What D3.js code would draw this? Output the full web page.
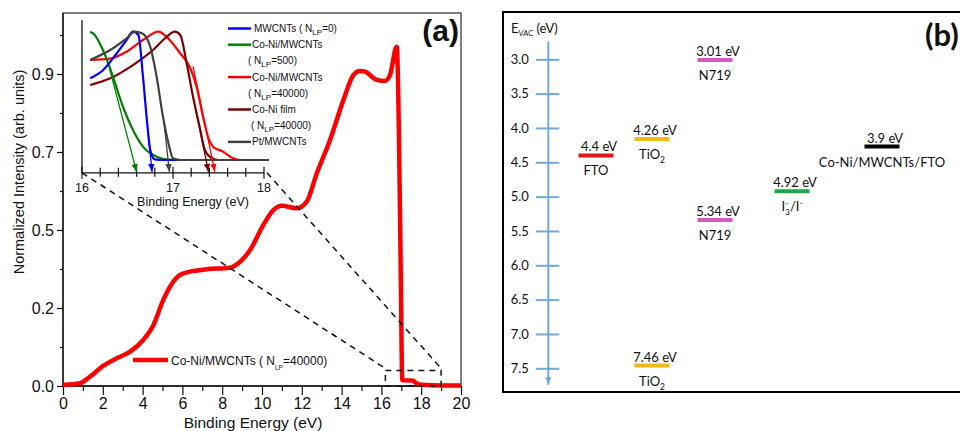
<!DOCTYPE html>
<html>
<head>
<meta charset="utf-8">
<script src="https://cdn.jsdelivr.net/npm/d3@7"></script>
<style>
  body { margin: 0; background: #fff; }
  svg { display: block; }
  .pa text { font-family: 'Liberation Sans', Arial, sans-serif; fill: #111; }
  .pb text { font-family: Lato, 'Noto Sans', sans-serif; fill: #111; }
</style>
</head>
<body>
<svg id="chart" width="960" height="431"></svg>
<script>
// ---- panel (a): full spectrum ----
const mainEnergy = [0, 0.85, 1.36, 2.03, 2.7, 3.37, 4.03, 4.54, 5.04, 5.38, 5.88, 6.38, 7.22, 8.39, 8.9, 9.4,
  10.07, 10.57, 10.99, 11.74, 12.25, 12.75, 13.42, 14.09, 14.59, 14.92, 15.18, 15.76, 16.18, 16.43, 16.77,
  16.88, 16.97, 17.05, 17.1, 17.55, 17.8, 18.0, 19.0, 20.0];
const mainIntensity = [0.003, 0.007, 0.024, 0.052, 0.071, 0.088, 0.118, 0.156, 0.231, 0.282, 0.327, 0.340, 0.349, 0.355, 0.378, 0.423,
  0.513, 0.551, 0.562, 0.556, 0.573, 0.645, 0.731, 0.833, 0.897, 0.908, 0.906, 0.885, 0.882, 0.897, 0.970,
  0.75, 0.35, 0.015, 0.015, 0.014, 0.006, 0.003, 0.001, 0.001];
const mainLegend = 'Co-Ni/MWCNTs';
const mainNlp = '40000';

const xTicksMajor = [0, 2, 4, 6, 8, 10, 12, 14, 16, 18, 20];
const xTicksMinor = [1, 3, 5, 7, 9, 11, 13, 15, 17, 19];
// the y tick labels of the original are not evenly spaced in value
const yTickValues = [0, 0.2, 0.5, 0.7, 0.9];
const yTickLabels = ['0.0', '0.2', '0.5', '0.7', '0.9'];
const yMinorValues = [0.1, 0.35, 0.6, 0.8, 1.0];

// zoom box drawn on the main spectrum: [E0, E1, I0, I1]
const zoomBox = [16.2, 19.0, 0, 0.04];

// ---- inset: secondary electron cut-off ----
const insetNames = ['MWCNTs', 'Co-Ni/MWCNTs', 'Co-Ni/MWCNTs', 'Co-Ni film', 'Pt/MWCNTs'];
const insetNlp = ['0', '500', '40000', '40000', null];
const insetColors = ['#0000ff', '#008000', '#ff0000', '#7a0000', '#404040'];
const insetEnergy = [
  [16.09, 16.23, 16.38, 16.49, 16.56, 16.62, 16.67, 16.72, 16.75, 16.8, 16.9, 18.05],
  [16.09, 16.14, 16.23, 16.34, 16.45, 16.56, 16.67, 16.82, 16.95, 17.1, 18.05],
  [16.09, 16.31, 16.49, 16.67, 16.84, 16.93, 17.08, 17.19, 17.26, 17.33, 17.39, 17.44, 17.55, 17.66, 17.75, 18.05],
  [16.09, 16.31, 16.56, 16.78, 16.93, 17.02, 17.08, 17.15, 17.22, 17.3, 17.35, 17.43, 17.5, 18.05],
  [16.09, 16.31, 16.49, 16.58, 16.66, 16.75, 16.82, 16.89, 16.95, 17.0, 17.08, 18.05]
];
const insetIntensity = [
  [0.637, 0.70, 0.83, 0.935, 1.0, 0.974, 0.65, 0.26, 0.078, 0.005, 0, 0],
  [1.0, 0.974, 0.857, 0.65, 0.415, 0.234, 0.104, 0.026, 0.003, 0, 0],
  [0.78, 0.79, 0.844, 0.935, 1.0, 0.96, 0.83, 0.715, 0.57, 0.337, 0.169, 0.104, 0.065, 0.013, 0, 0],
  [0.585, 0.637, 0.74, 0.857, 0.96, 1.0, 0.974, 0.753, 0.493, 0.234, 0.078, 0.013, 0, 0],
  [0.78, 0.857, 0.948, 1.0, 0.987, 0.883, 0.65, 0.337, 0.13, 0.013, 0, 0]
];
// cut-off arrows: start point on the curve, end energy on the axis
const arrowStartE = [16.72, 16.3, 17.22, 17.25, 16.9];
const arrowStartI = [0.26, 0.72, 0.73, 0.39, 0.3];
const arrowEndE = [16.77, 16.6, 17.46, 17.39, 16.96];

// ---- panel (b): energy levels ----
const evTicks = [3.0, 3.5, 4.0, 4.5, 5.0, 5.5, 6.0, 6.5, 7.0, 7.5];
const levelColumn = ['FTO', 'TiO2', 'N719', 'N719', 'TiO2', 'I3', 'CoNi'];
const levelValue = ['4.4 eV', '4.26 eV', '3.01 eV', '5.34 eV', '7.46 eV', '4.92 eV', '3.9 eV'];
// where each bar sits on the drawn scale (the original does not always match its label)
const levelPos = [4.4, 4.16, 3.01, 5.34, 7.46, 4.92, 4.27];
const levelName = ['FTO', 'TiO2', 'N719', 'N719', 'TiO2', 'I3-/I-', 'Co-Ni/MWCNTs/FTO'];
const levelColors = ['#e3131b', '#f4b817', '#d957c6', '#d957c6', '#f4b817', '#1fa64a', '#000000'];

const svg = d3.select('#chart');

// ================= panel (a) =================
const pa = svg.append('g').attr('class', 'pa');

const x = d3.scaleLinear().domain([0, 20]).range([63, 461]);
const y = d3.scaleLinear().domain(yTickValues).range([386, 308, 230, 152, 74]);
const yTop = 13;

pa.append('rect')
  .attr('x', x(0)).attr('y', yTop)
  .attr('width', x(20) - x(0)).attr('height', y(0) - yTop)
  .attr('fill', 'none').attr('stroke', '#555').attr('stroke-width', 1.5);

function styleAxis(g, size) {
  g.select('.domain').remove();
  g.selectAll('.tick line').attr('stroke', '#111').attr('stroke-width', 1.2);
  g.selectAll('.tick text').attr('font-size', size).attr('fill', '#111')
    .attr('font-family', "'Liberation Sans', Arial, sans-serif");
}

const axY = pa.append('g').attr('transform', 'translate(' + x(0) + ',0)')
  .call(d3.axisLeft(y).tickValues(yTickValues).tickFormat((d, i) => yTickLabels[i]).tickSize(6).tickPadding(3));
styleAxis(axY, '16px');
const axYm = pa.append('g').attr('transform', 'translate(' + x(0) + ',0)')
  .call(d3.axisLeft(y).tickValues(yMinorValues).tickFormat('').tickSize(3));
styleAxis(axYm, '16px');

const axX = pa.append('g').attr('transform', 'translate(0,' + y(0) + ')')
  .call(d3.axisBottom(x).tickValues(xTicksMajor).tickFormat(d3.format('d')).tickSize(9).tickPadding(3));
styleAxis(axX, '16px');
const axXm = pa.append('g').attr('transform', 'translate(0,' + y(0) + ')')
  .call(d3.axisBottom(x).tickValues(xTicksMinor).tickFormat('').tickSize(5));
styleAxis(axXm, '16px');

pa.append('line')
  .attr('x1', x(0)).attr('x2', x(0)).attr('y1', yTop).attr('y2', y(0))
  .attr('stroke', '#111').attr('stroke-width', 1.3);
pa.append('line')
  .attr('x1', x(0)).attr('x2', x(20)).attr('y1', y(0)).attr('y2', y(0))
  .attr('stroke', '#111').attr('stroke-width', 1.3);

pa.append('text')
  .attr('x', 253).attr('y', 428)
  .attr('text-anchor', 'middle').attr('font-size', '15.5px')
  .text('Binding Energy (eV)');
pa.append('text')
  .attr('transform', 'translate(24,172) rotate(-90)')
  .attr('text-anchor', 'middle').attr('font-size', '14.5px')
  .text('Normalized Intensity (arb. units)');

pa.append('text')
  .attr('x', 459).attr('y', 41)
  .attr('text-anchor', 'end').attr('font-size', '30px').attr('font-weight', 'bold')
  .text('(a)');

// main spectrum
const mainLine = d3.line()
  .x(d => x(d[0]))
  .y(d => y(d[1]))
  .curve(d3.curveMonotoneX);

pa.append('path')
  .datum(d3.zip(mainEnergy, mainIntensity))
  .attr('fill', 'none').attr('stroke', '#ff0000').attr('stroke-width', 4.5)
  .attr('stroke-linejoin', 'round')
  .attr('d', mainLine);

// main legend
pa.append('line')
  .attr('x1', 133).attr('x2', 168).attr('y1', 360).attr('y2', 360)
  .attr('stroke', '#ff0000').attr('stroke-width', 4.5);
function appendNlp(t, value, small, shift) {
  t.append('tspan').text(' ( N');
  t.append('tspan').attr('dy', shift).attr('font-size', small).text('LP');
  t.append('tspan').attr('dy', -shift).text('=' + value + ')');
}
const mainLeg = pa.append('text')
  .attr('x', 171).attr('y', 365).attr('font-size', '12px').text(mainLegend);
appendNlp(mainLeg, mainNlp, '6.5px', 5);

// ---- inset ----
const ix = d3.scaleLinear().domain([16, 18]).range([82, 264]);
const iy = d3.scaleLinear().domain([0, 1]).range([160, 31.7]);
const iAxisY = iy(-0.1);

// dashed zoom box and connectors
const dash = { stroke: '#111', 'stroke-width': 1.5, 'stroke-dasharray': '6,5', fill: 'none' };
const zb = pa.append('rect')
  .attr('x', x(zoomBox[0])).attr('y', y(zoomBox[3]))
  .attr('width', x(zoomBox[1]) - x(zoomBox[0])).attr('height', y(zoomBox[2]) - y(zoomBox[3]));
Object.entries(dash).forEach(([k, v]) => zb.attr(k, v));
[[ix(16), zoomBox[0]], [ix(18) + 3, zoomBox[1]]].forEach(p => {
  const l = pa.append('line')
    .attr('x1', p[0]).attr('y1', iAxisY)
    .attr('x2', x(p[1])).attr('y2', y(zoomBox[3]) - 2);
  Object.entries(dash).forEach(([k, v]) => l.attr(k, v));
});

// inset axes
pa.append('line')
  .attr('x1', ix(16)).attr('x2', ix(16)).attr('y1', iy(1.09)).attr('y2', iAxisY)
  .attr('stroke', '#111').attr('stroke-width', 1.3);
pa.append('line')
  .attr('x1', ix(16)).attr('x2', ix(18)).attr('y1', iAxisY).attr('y2', iAxisY)
  .attr('stroke', '#111').attr('stroke-width', 1.3);

const insetTicks = d3.range(0, 11).map(i => 16 + i * 0.2);
pa.append('g').selectAll('line')
  .data(insetTicks)
  .join('line')
  .attr('x1', d => ix(d)).attr('x2', d => ix(d))
  .attr('y1', (d, i) => iAxisY - (i % 5 === 0 ? 6 : 5))
  .attr('y2', (d, i) => iAxisY + (i % 5 === 0 ? 6 : 4))
  .attr('stroke', '#111').attr('stroke-width', 1.2);
pa.append('g').selectAll('text')
  .data([16, 17, 18])
  .join('text')
  .attr('x', d => ix(d)).attr('y', iAxisY + 19.5)
  .attr('text-anchor', 'middle').attr('font-size', '12.5px')
  .text(d => d);
pa.append('text')
  .attr('x', 193).attr('y', 206)
  .attr('text-anchor', 'middle').attr('font-size', '12.5px')
  .text('Binding Energy (eV)');

// arrow markers
const defs = svg.append('defs');
insetColors.forEach((c, i) => {
  defs.append('marker')
    .attr('id', 'arr' + i)
    .attr('viewBox', '0 0 10 8')
    .attr('refX', 10).attr('refY', 4)
    .attr('markerWidth', 8).attr('markerHeight', 7)
    .attr('markerUnits', 'userSpaceOnUse')
    .attr('orient', 'auto')
    .append('path').attr('d', 'M0,0L10,4L0,8Z').attr('fill', c);
});

const insetLine = d3.line()
  .x(d => ix(d[0]))
  .y(d => iy(d[1]))
  .curve(d3.curveMonotoneX);

const drawOrder = [2, 3, 1, 0, 4];
drawOrder.forEach(i => {
  pa.append('path')
    .datum(d3.zip(insetEnergy[i], insetIntensity[i]))
    .attr('fill', 'none').attr('stroke', insetColors[i]).attr('stroke-width', 2.2)
    .attr('d', insetLine);
});
insetColors.forEach((c, i) => {
  pa.append('line')
    .attr('x1', ix(arrowStartE[i])).attr('y1', iy(arrowStartI[i]))
    .attr('x2', ix(arrowEndE[i])).attr('y2', iAxisY - 1)
    .attr('stroke', c).attr('stroke-width', 1.3)
    .attr('marker-end', 'url(#arr' + i + ')');
});

// inset legend
const legRow = [0, 1, 3, 5, 7];
const rowY = r => 28.5 + r * 16.2;
insetNames.forEach((name, i) => {
  const yy = rowY(legRow[i]);
  pa.append('line')
    .attr('x1', 228).attr('x2', 251).attr('y1', yy).attr('y2', yy)
    .attr('stroke', insetColors[i]).attr('stroke-width', 2.5);
  const t = pa.append('text')
    .attr('x', i === 0 ? 254 : 252).attr('y', yy + 3.5)
    .attr('font-size', '10px').attr('fill', '#222')
    .text(name);
  if (insetNlp[i] === null) return;
  if (i === 0) {
    t.append('tspan').text('  ');
    appendNlp(t, insetNlp[i], '8px', 3);
  } else {
    const t2 = pa.append('text')
      .attr('x', i === 3 ? 251 : 248).attr('y', rowY(legRow[i] + 1) + 3.5)
      .attr('font-size', '10px').attr('fill', '#222');
    appendNlp(t2, insetNlp[i], '8px', 3);
  }
});

// ================= panel (b) =================
const pb = svg.append('g').attr('class', 'pb');

pb.append('rect')
  .attr('x', 503).attr('y', 12).attr('width', 480).attr('height', 380)
  .attr('fill', 'none').attr('stroke', '#000').attr('stroke-width', 2);

pb.append('text')
  .attr('x', 925).attr('y', 46)
  .attr('font-size', '31px').attr('font-weight', 'bold')
  .text('(b)');

const ey = d3.scaleLinear().domain([3, 7.5]).range([59.3, 368.3]);
const axisX = 548.3;
const axisColor = '#72a9d6';

defs.append('marker')
  .attr('id', 'arrAxis')
  .attr('viewBox', '0 0 10 8')
  .attr('refX', 10).attr('refY', 4)
  .attr('markerWidth', 8).attr('markerHeight', 6)
  .attr('markerUnits', 'userSpaceOnUse')
  .attr('orient', 'auto')
  .append('path').attr('d', 'M0,0L10,4L0,8Z').attr('fill', axisColor);

pb.append('line')
  .attr('x1', axisX).attr('x2', axisX)
  .attr('y1', ey(2.74)).attr('y2', ey(7.74))
  .attr('stroke', axisColor).attr('stroke-width', 2)
  .attr('marker-end', 'url(#arrAxis)');

const axE = pb.append('g').attr('transform', 'translate(' + axisX + ',0)')
  .call(d3.axisLeft(ey).tickValues(evTicks).tickFormat(d3.format('.1f')).tickSize(12.5).tickPadding(7));
axE.select('.domain').remove();
axE.selectAll('.tick line').attr('x1', 11).attr('stroke', axisColor).attr('stroke-width', 2);
axE.selectAll('.tick text')
  .attr('font-family', "Lato, 'Noto Sans', sans-serif")
  .attr('font-size', '13px').attr('fill', '#111');

const evacLabel = pb.append('text').attr('x', 511).attr('y', 33).attr('font-size', '13px');
evacLabel.append('tspan').text('E');
evacLabel.append('tspan').attr('dy', 3).attr('font-size', '7.5px').text('VAC');
evacLabel.append('tspan').attr('dy', -3).text(' (eV)');

const colX = d3.scaleOrdinal()
  .domain(['FTO', 'TiO2', 'N719', 'I3', 'CoNi'])
  .range([596, 652, 715, 792, 882]);
const barW = 35;

levelPos.forEach((v, i) => {
  const cx = colX(levelColumn[i]);
  const by = ey(v);
  pb.append('line')
    .attr('x1', cx - barW / 2).attr('x2', cx + barW / 2)
    .attr('y1', by).attr('y2', by)
    .attr('stroke', levelColors[i]).attr('stroke-width', 4);
  pb.append('text')
    .attr('x', cx + 3).attr('y', by - 4)
    .attr('text-anchor', 'middle').attr('font-size', '13px')
    .text(levelValue[i]);
  const nm = pb.append('text')
    .attr('x', cx).attr('y', by + 20)
    .attr('text-anchor', 'middle').attr('font-size', '13px');
  const name = levelName[i];
  if (name === 'TiO2') {
    nm.append('tspan').text('TiO');
    nm.append('tspan').attr('dy', 4).attr('font-size', '8.5px').text('2');
  } else if (name === 'I3-/I-') {
    nm.append('tspan').text('I');
    nm.append('tspan').attr('dy', -5).attr('font-size', '8px').text('-');
    nm.append('tspan').attr('dx', -3).attr('dy', 9).attr('font-size', '8px').text('3');
    nm.append('tspan').attr('dy', -4).text('/I');
    nm.append('tspan').attr('dy', -5).attr('font-size', '8px').text('-');
  } else {
    nm.text(name);
  }
});
</script>
</body>
</html>
